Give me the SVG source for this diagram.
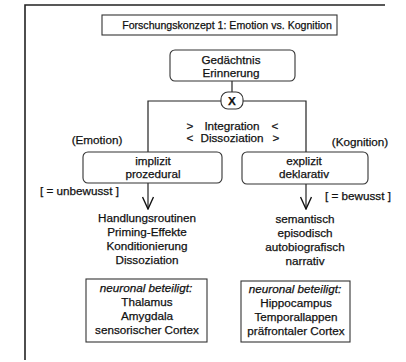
<svg xmlns="http://www.w3.org/2000/svg" width="406" height="362" viewBox="0 0 406 362">
<defs>
<marker id="arr" markerWidth="14" markerHeight="12" refX="13" refY="6" orient="auto" markerUnits="userSpaceOnUse" viewBox="0 0 14 12">
<path d="M1,0.5 L13,6 L1,11.5" fill="none" stroke="#111" stroke-width="1.4"/>
</marker>
</defs>
<style>
text{font-family:"Liberation Sans",Arial,sans-serif;font-size:11.7px;fill:#111;stroke:#111;stroke-width:0.25;text-anchor:middle}
.t{font-size:10.6px}
.i{font-style:italic}
.l{text-anchor:start}
.box{fill:#fff;stroke:#333;stroke-width:1.1}
.ln{fill:none;stroke:#222;stroke-width:1.2}
</style>
<rect width="406" height="362" fill="#fff"/>
<g id="frame">
<path d="M25,360 L25,5 L385,5" fill="none" stroke="#222" stroke-width="1.6"/>
</g>
<g id="connectors">
<line class="ln" x1="232" y1="81" x2="232" y2="92"/>
<path class="ln" d="M148,152 L148,101 L221,101 M243,101 L306,101 L306,152"/>
<line class="ln" x1="148" y1="183" x2="148" y2="209" marker-end="url(#arr)"/>
<line class="ln" x1="306" y1="184" x2="306" y2="209" marker-end="url(#arr)"/>
</g>
<g id="title">
<rect class="box" x="102" y="15" width="235" height="20"/>
<text class="t" x="227" y="28.5">Forschungskonzept 1: Emotion vs. Kognition</text>
</g>
<g id="gedaechtnis">
<rect class="box" x="170" y="50" width="125" height="31" rx="5"/>
<text x="231" y="64">Gedächtnis</text>
<text x="231" y="77">Erinnerung</text>
</g>
<g id="x-node">
<rect class="box" x="221" y="92" width="22" height="17" rx="7" stroke-width="1.4"/>
<text x="232" y="105" font-weight="bold" font-size="11px">X</text>
</g>
<g id="integration">
<text x="190" y="130">&gt;</text>
<text x="232" y="130">Integration</text>
<text x="275" y="130">&lt;</text>
<text x="190" y="142">&lt;</text>
<text x="232" y="142">Dissoziation</text>
<text x="276" y="142">&gt;</text>
</g>
<g id="emotion-label"><text x="97" y="144">(Emotion)</text></g>
<g id="kognition-label"><text x="360" y="146">(Kognition)</text></g>
<g id="implizit">
<rect class="box" x="83" y="152" width="139" height="31" rx="5"/>
<text x="153" y="165">implizit</text>
<text x="153" y="178">prozedural</text>
</g>
<g id="explizit">
<rect class="box" x="242" y="152" width="126" height="32" rx="5"/>
<text x="304" y="165">explizit</text>
<text x="304" y="178">deklarativ</text>
</g>
<g id="unbewusst"><text class="l" x="40" y="195">[ = unbewusst ]</text></g>
<g id="bewusst"><text class="l" x="325" y="200">[ = bewusst ]</text></g>
<g id="list-left">
<text x="147" y="222">Handlungsroutinen</text>
<text x="147" y="236">Priming-Effekte</text>
<text x="147" y="250">Konditionierung</text>
<text x="147" y="264">Dissoziation</text>
</g>
<g id="list-right">
<text x="305" y="223">semantisch</text>
<text x="305" y="237">episodisch</text>
<text x="305" y="251">autobiografisch</text>
<text x="305" y="265">narrativ</text>
</g>
<g id="neuro-left">
<rect class="box" x="86" y="279" width="121" height="63"/>
<text class="i" x="146" y="292">neuronal beteiligt:</text>
<text x="147" y="306">Thalamus</text>
<text x="147" y="320">Amygdala</text>
<text x="147" y="334">sensorischer Cortex</text>
</g>
<g id="neuro-right">
<rect class="box" x="241" y="281" width="109" height="61"/>
<text class="i" x="295" y="293">neuronal beteiligt:</text>
<text x="296" y="307">Hippocampus</text>
<text x="296" y="321">Temporallappen</text>
<text x="296" y="335">präfrontaler Cortex</text>
</g>
</svg>
